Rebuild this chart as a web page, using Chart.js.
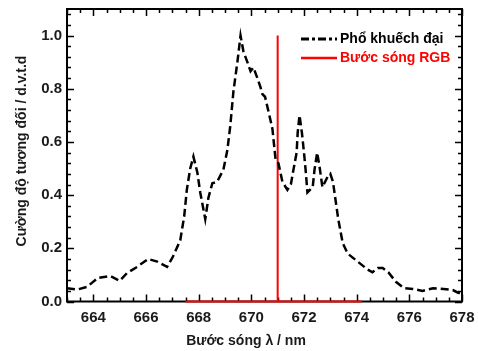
<!DOCTYPE html>
<html><head><meta charset="utf-8">
<script src="https://cdn.jsdelivr.net/npm/chart.js@4"></script>
<style>html,body{margin:0;padding:0;background:#fff}#wrap{width:478px;height:351px}</style>
</head><body><div id="wrap"><canvas id="c" width="478" height="351"></canvas></div>
<script>
// ---- data ----
const specLabel = 'Phổ khuếch đại';
const specX = [663.0,663.4,663.76,664.18,664.64,665.0,665.28,665.66,666.08,666.43,666.8,667.03,667.3,667.45,667.55,667.68,667.8,667.95,668.06,668.25,668.37,668.52,668.7,668.94,669.09,669.2,669.32,669.47,669.59,669.7,669.85,669.97,670.08,670.23,670.35,670.42,670.52,670.65,670.8,670.92,671.03,671.18,671.37,671.5,671.6,671.72,671.76,671.83,671.92,672.0,672.07,672.13,672.33,672.4,672.5,672.6,672.7,672.9,673.0,673.1,673.2,673.3,673.47,673.66,674.04,674.42,674.6,674.8,674.99,675.2,675.49,675.8,676.13,676.5,676.9,677.3,677.65,677.85,678.0];
const specY = [0.05,0.045,0.055,0.089,0.096,0.078,0.107,0.13,0.16,0.15,0.13,0.17,0.23,0.32,0.42,0.50,0.545,0.485,0.41,0.31,0.39,0.445,0.45,0.496,0.57,0.66,0.79,0.90,1.0,0.94,0.90,0.866,0.88,0.84,0.805,0.78,0.77,0.715,0.65,0.534,0.52,0.45,0.42,0.44,0.496,0.56,0.635,0.70,0.635,0.56,0.485,0.41,0.43,0.496,0.56,0.50,0.43,0.47,0.48,0.45,0.38,0.31,0.22,0.18,0.15,0.12,0.11,0.126,0.126,0.11,0.074,0.05,0.047,0.04,0.05,0.047,0.043,0.033,0.03];
const rgbLabel = 'Bước sóng RGB';
const rgbX = [667.5,671.0,671.0,671.0,674.2];
const rgbY = [0,0,1.0,0,0];
const xTicks = [664,666,668,670,672,674,676,678];
const yTicks = [0.0,0.2,0.4,0.6,0.8,1.0];
const xTitle = 'Bước sóng λ / nm';
const yTitle = 'Cường độ tương đối / d.v.t.d';

const FONT = "'Liberation Sans', Arial, sans-serif";

const framePlugin = {
  id: 'frame',
  beforeDatasetsDraw(chart) {
    const {ctx, chartArea: a, scales: {x, y}} = chart;
    ctx.save();
    ctx.strokeStyle = '#000';
    ctx.lineWidth = 1.5;
    for (let v = 663; v <= 678.001; v += 0.5) {
      const px = Math.round(x.getPixelForValue(v)) + 0.5;
      const major = xTicks.some(t => Math.abs(t - v) < 1e-6);
      const L = major ? 7 : 4;
      ctx.beginPath();
      ctx.moveTo(px, a.bottom); ctx.lineTo(px, a.bottom - L);
      ctx.moveTo(px, a.top); ctx.lineTo(px, a.top + L);
      ctx.stroke();
    }
    for (let v = 0; v <= 1.1001; v += 0.04) {
      const py = Math.round(y.getPixelForValue(v)) + 0.5;
      const major = yTicks.some(t => Math.abs(t - v) < 1e-6);
      const L = major ? 7 : 4;
      ctx.beginPath();
      ctx.moveTo(a.left, py); ctx.lineTo(a.left + L, py);
      ctx.moveTo(a.right, py); ctx.lineTo(a.right - L, py);
      ctx.stroke();
    }
    ctx.lineWidth = 2;
    ctx.strokeRect(a.left, a.top, a.right - a.left, a.bottom - a.top);
    ctx.restore();
  },
  afterDatasetsDraw(chart) {
    const {ctx} = chart;
    ctx.save();
    const rows = [
      {ds: chart.data.datasets[0], y: 39, color: '#000', dash: [8,3,3,3]},
      {ds: chart.data.datasets[1], y: 58, color: '#ff0000', dash: []}
    ];
    ctx.font = 'bold 14px ' + FONT;
    ctx.textBaseline = 'middle';
    ctx.textAlign = 'left';
    rows.forEach(r => {
      ctx.strokeStyle = r.ds.borderColor;
      ctx.lineWidth = r.ds.borderWidth + 0.5;
      ctx.setLineDash(r.dash);
      ctx.beginPath(); ctx.moveTo(301, r.y); ctx.lineTo(337, r.y); ctx.stroke();
      ctx.setLineDash([]);
      ctx.fillStyle = r.color;
      ctx.fillText(r.ds.label, 340, r.y);
    });
    ctx.fillStyle = '#1a1a1a';
    ctx.font = 'bold 14px ' + FONT;
    ctx.textAlign = 'center';
    ctx.fillText(xTitle, 246, 341);
    ctx.translate(22, 151);
    ctx.rotate(-Math.PI / 2);
    ctx.fillText(yTitle, 0, 0);
    ctx.restore();
  }
};

new Chart(document.getElementById('c'), {
  type: 'scatter',
  data: {
    datasets: [
      {label: specLabel, data: specX.map((v, i) => ({x: v, y: specY[i]})), showLine: true,
       borderColor: '#000', borderWidth: 2.5, borderDash: [8,4], pointRadius: 0, tension: 0, fill: false},
      {label: rgbLabel, data: rgbX.map((v, i) => ({x: v, y: rgbY[i]})), showLine: true,
       borderColor: '#ff0000', borderWidth: 2, pointRadius: 0, tension: 0, fill: false, clip: false}
    ]
  },
  options: {
    responsive: false,
    animation: false,
    devicePixelRatio: 1,
    layout: {padding: {left: 0, top: 9, right: 16, bottom: 0}},
    plugins: {legend: {display: false}, tooltip: {enabled: false}, title: {display: false}},
    scales: {
      x: {
        type: 'linear', min: 663, max: 678,
        afterBuildTicks: s => { s.ticks = xTicks.map(v => ({value: v})); },
        afterFit: s => { s.height = 49.5; s.paddingLeft = 0; s.paddingRight = 0; },
        grid: {display: false, drawTicks: false, tickLength: 0}, border: {display: false},
        ticks: {padding: 7, color: '#1a1a1a', font: {family: FONT, size: 15, weight: 'bold'}, maxRotation: 0,
                callback: v => String(v)}
      },
      y: {
        type: 'linear', min: 0, max: 1.1,
        afterBuildTicks: s => { s.ticks = yTicks.map(v => ({value: v})); },
        afterFit: s => { s.width = 67; s.paddingTop = 0; s.paddingBottom = 0; },
        grid: {display: false, drawTicks: false, tickLength: 0}, border: {display: false},
        ticks: {padding: 5, color: '#1a1a1a', font: {family: FONT, size: 15, weight: 'bold'},
                callback: v => Number(v).toFixed(1)}
      }
    }
  },
  plugins: [framePlugin]
});
</script></body></html>
